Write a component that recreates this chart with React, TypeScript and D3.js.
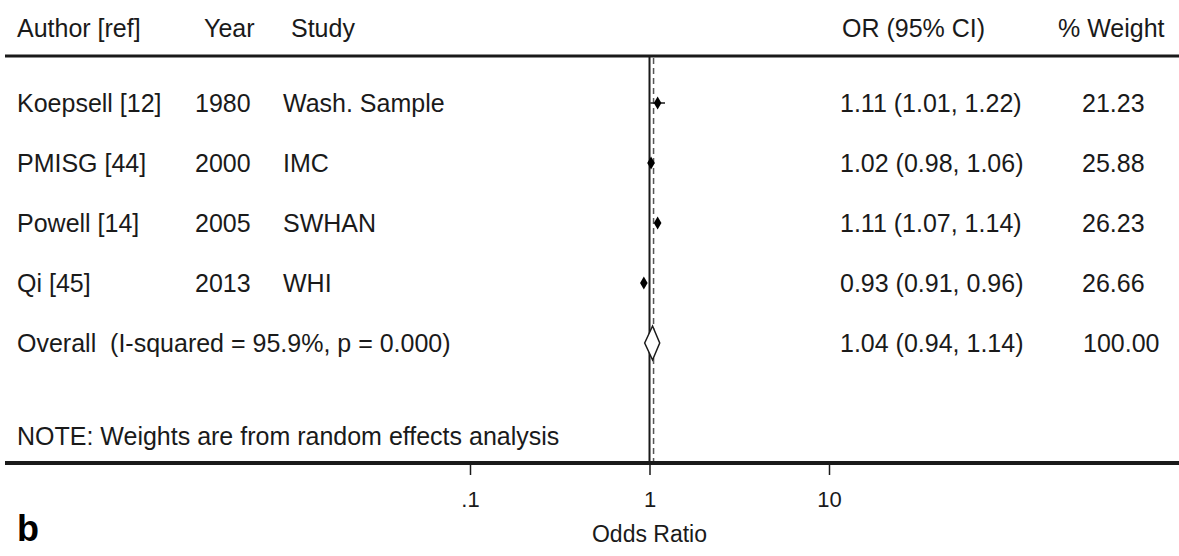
import React, { useEffect, useRef } from "react";
import * as d3 from "d3";

// study rows
const authors = ["Koepsell [12]", "PMISG [44]", "Powell [14]", "Qi [45]"];
const years = ["1980", "2000", "2005", "2013"];
const studies = ["Wash. Sample", "IMC", "SWHAN", "WHI"];
const or = [1.11, 1.02, 1.11, 0.93];
const lower = [1.01, 0.98, 1.07, 0.91];
const upper = [1.22, 1.06, 1.14, 0.96];
const weights = ["21.23", "25.88", "26.23", "26.66"];

// overall
const overallLabel = "Overall  (I-squared = 95.9%, p = 0.000)";
const overallOr = 1.04;
const overallLower = 0.94;
const overallUpper = 1.14;
const overallWeight = "100.00";

const tickValues = [0.1, 1, 10];
const tickLabels = [".1", "1", "10"];

const W = 1179;
const H = 556;
const font = "'Liberation Sans', Arial, sans-serif";
const ink = "#1a1a1a";

const fmt = (v: number) => v.toFixed(2);

export default function App() {
  const axisRef = useRef<SVGGElement>(null);

  const x = d3.scaleLog().domain([0.1, 10]).range([470, 829]);
  // rows: 4 studies then overall
  const y = d3.scaleLinear().domain([0, 4]).range([103, 343]);

  useEffect(() => {
    document.body.style.margin = "0";
    const g = d3.select(axisRef.current);
    g.call(
      d3.axisBottom(x)
        .tickValues(tickValues)
        .tickFormat((d, i) => tickLabels[i])
        .tickSize(12)
        .tickPadding(16)
    );
    g.select(".domain").remove();
    g.selectAll(".tick line").attr("stroke", ink).attr("stroke-width", 1.5);
    g.selectAll(".tick text")
      .attr("fill", ink)
      .style("font-family", font)
      .style("font-size", "22px");
  }, []);

  const ox = x(overallOr);
  const dy = 17;
  const diamond = `M${x(overallLower)},${y(4)} L${ox},${y(4) - dy} L${x(overallUpper)},${y(4)} L${ox},${y(4) + dy} Z`;

  const txt = {
    fontFamily: font,
    fontSize: 25,
    fill: ink,
    dominantBaseline: "central" as const,
    whiteSpace: "pre" as const,
  };

  return (
    <svg width={W} height={H} style={{ position: "absolute", left: 0, top: 0, background: "#fff" }}>
      {/* header */}
      <text x={17} y={28} style={txt}>Author [ref]</text>
      <text x={204} y={28} style={txt}>Year</text>
      <text x={291} y={28} style={txt}>Study</text>
      <text x={842} y={28} style={txt}>OR (95% CI)</text>
      <text x={1058} y={28} style={txt}>% Weight</text>
      <line x1={5} x2={W} y1={56} y2={56} stroke={ink} strokeWidth={3} />

      {/* reference lines */}
      <line x1={x(1)} x2={x(1)} y1={56} y2={463} stroke={ink} strokeWidth={2} />
      <line x1={x(overallOr) + 1} x2={x(overallOr) + 1} y1={58} y2={463}
        stroke="#555" strokeWidth={1.5} strokeDasharray="6,4" />

      {/* studies */}
      {authors.map((a, i) => (
        <g key={a}>
          <text x={17} y={y(i)} style={txt}>{a}</text>
          <text x={195} y={y(i)} style={txt}>{years[i]}</text>
          <text x={283} y={y(i)} style={txt}>{studies[i]}</text>
          <text x={840} y={y(i)} style={txt}>
            {`${fmt(or[i])} (${fmt(lower[i])}, ${fmt(upper[i])})`}
          </text>
          <text x={1082} y={y(i)} style={txt}>{weights[i]}</text>
          <line x1={x(lower[i])} x2={x(upper[i])} y1={y(i)} y2={y(i)} stroke={ink} strokeWidth={1.5} />
          <path
            d={d3.symbol().type(d3.symbolDiamond).size(50)() as string}
            transform={`translate(${x(or[i])},${y(i)})`}
            fill="#000"
          />
        </g>
      ))}

      {/* overall */}
      <text x={17} y={y(4)} style={txt}>{overallLabel}</text>
      <text x={840} y={y(4)} style={txt}>
        {`${fmt(overallOr)} (${fmt(overallLower)}, ${fmt(overallUpper)})`}
      </text>
      <text x={1083} y={y(4)} style={txt}>{overallWeight}</text>
      <path d={diamond} fill="#fff" stroke={ink} strokeWidth={1.5} />

      <text x={17} y={436} style={txt}>NOTE: Weights are from random effects analysis</text>

      {/* axis */}
      <line x1={5} x2={W} y1={463} y2={463} stroke={ink} strokeWidth={4} />
      <g ref={axisRef} transform="translate(0,463)" />
      <text x={x(1)} y={534} textAnchor="middle" style={{ ...txt, fontSize: 23 }}>Odds Ratio</text>
      <text x={17} y={528} style={{ ...txt, fontSize: 36, fontWeight: "bold", fill: "#000" }}>b</text>
    </svg>
  );
}
